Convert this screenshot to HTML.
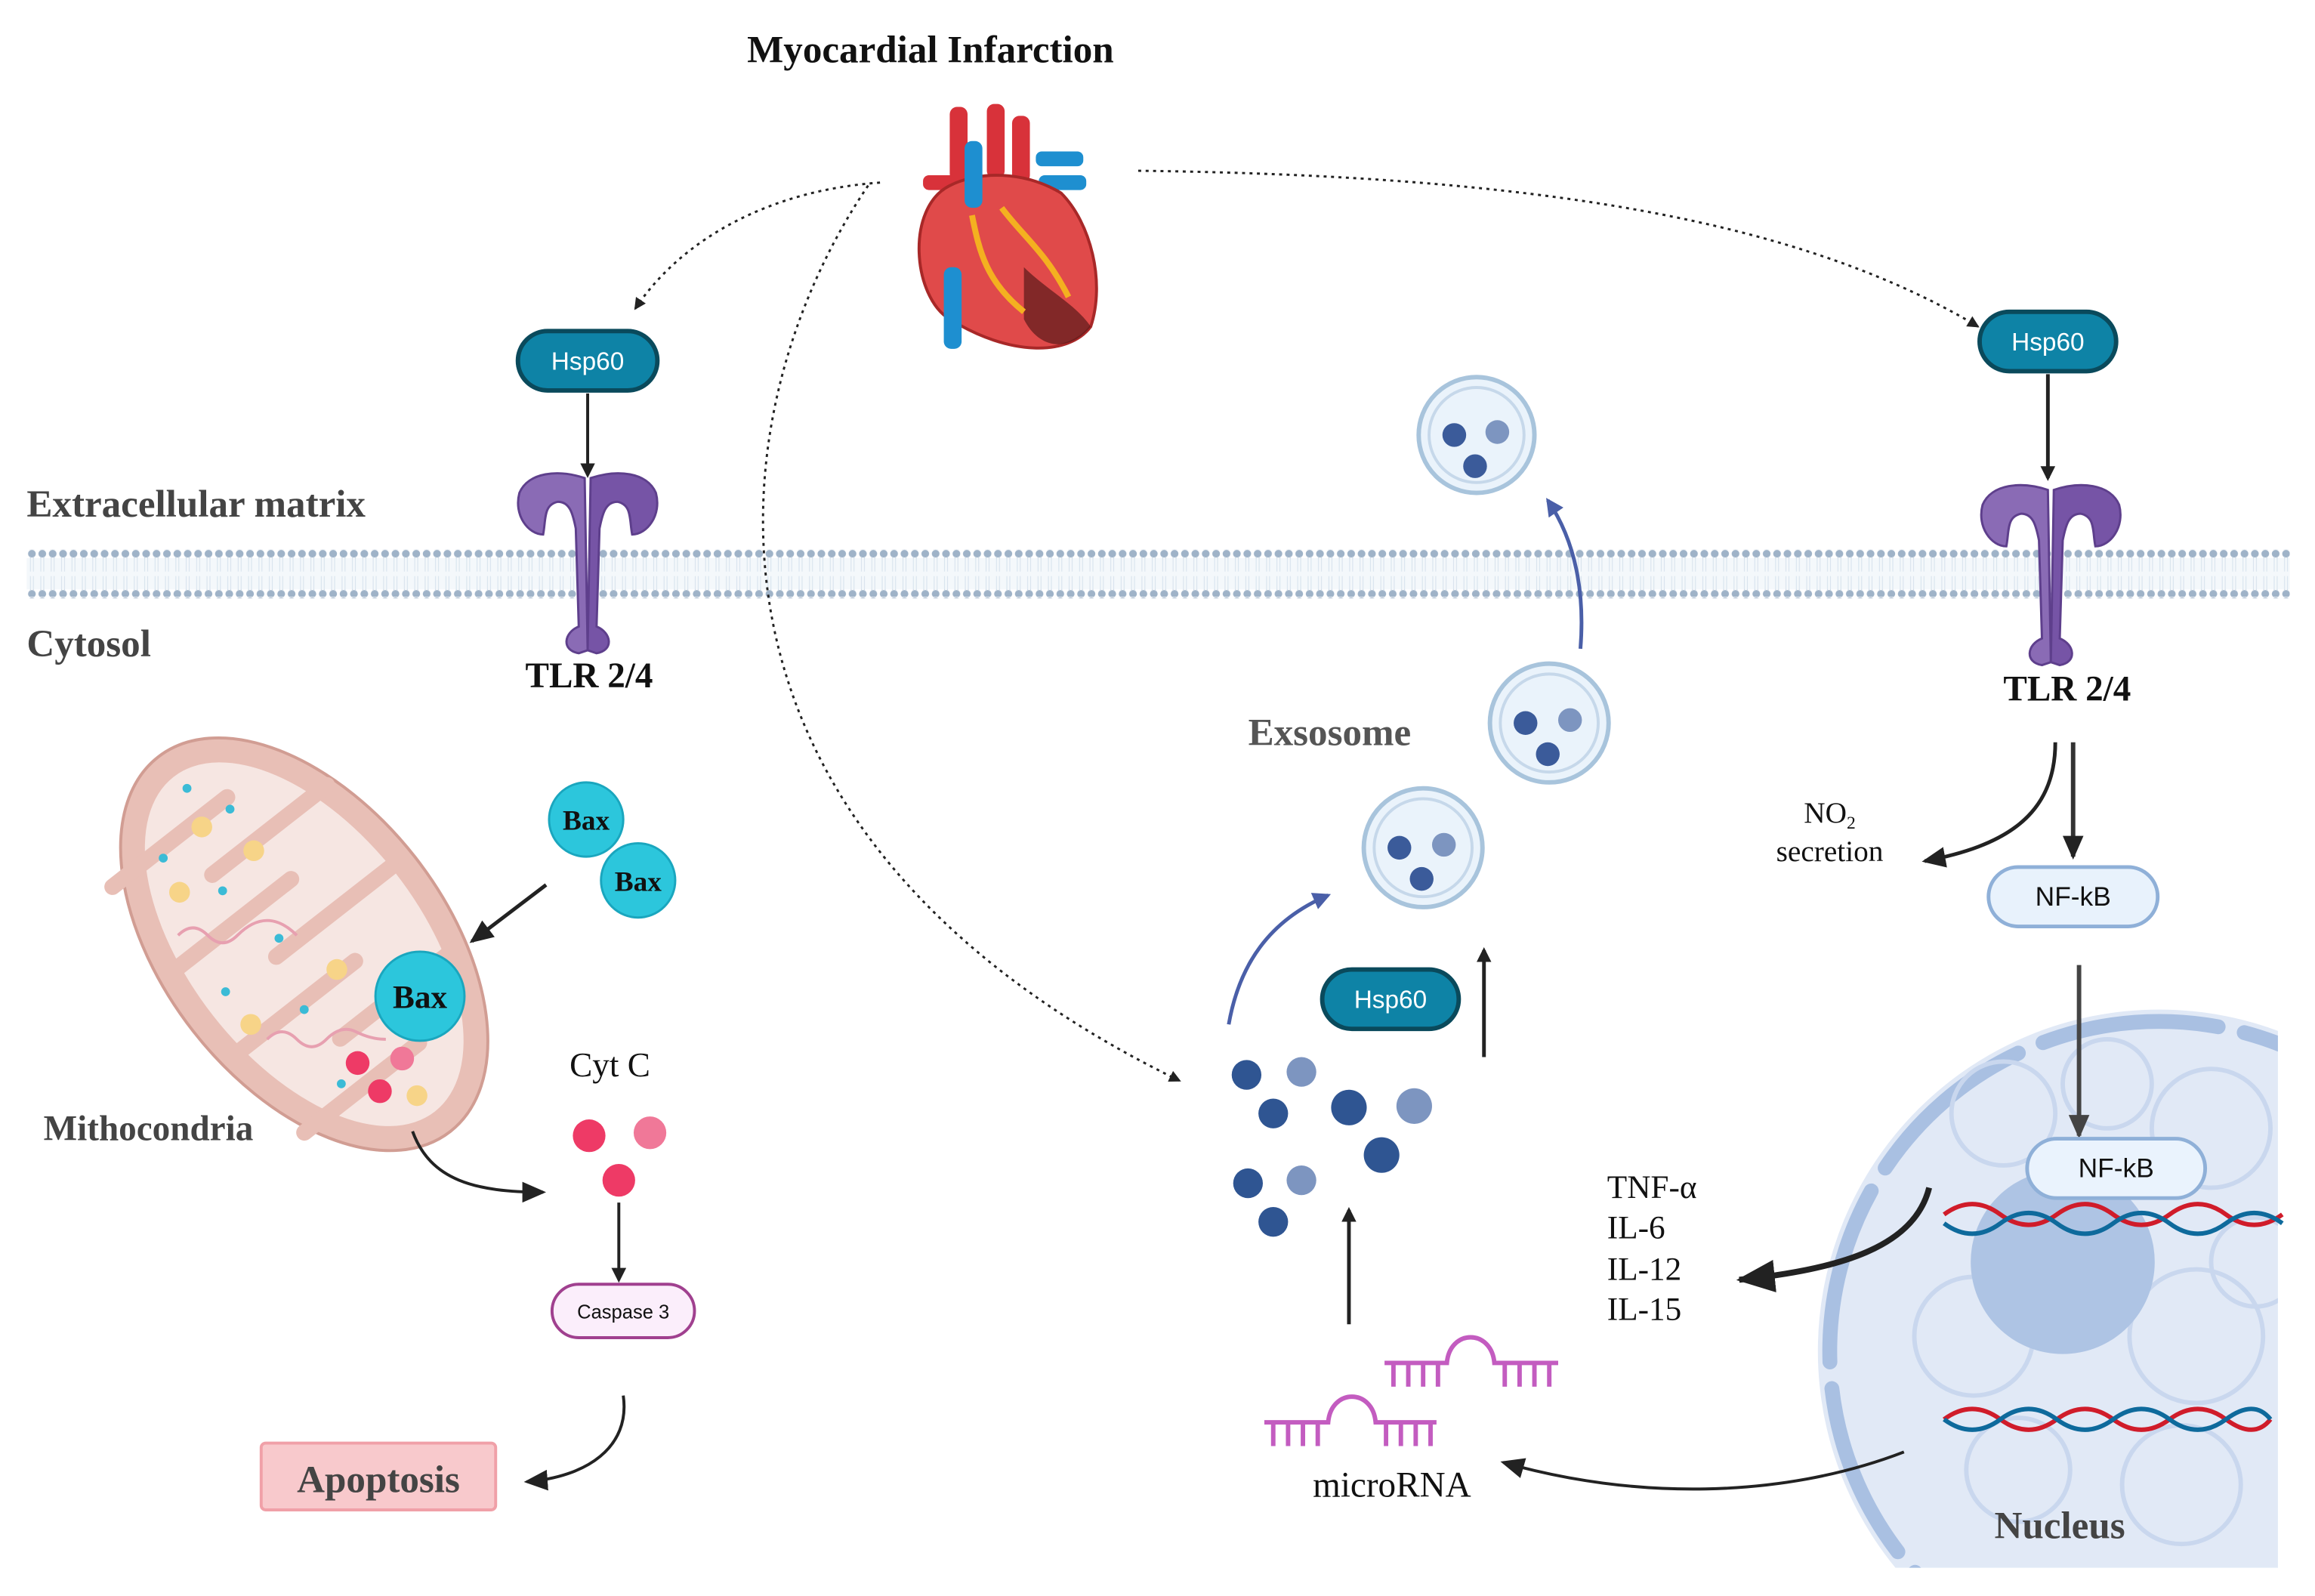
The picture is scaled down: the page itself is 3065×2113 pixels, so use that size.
<!DOCTYPE html>
<html><head><meta charset="utf-8">
<style>
html,body{margin:0;padding:0;background:#fff;overflow:hidden;width:3065px;height:2113px;}
svg{display:block;}
text{font-family:"Liberation Serif",serif;}
</style></head>
<body>
<svg width="3065" height="2113" viewBox="0 0 1560 1075" preserveAspectRatio="none" xmlns="http://www.w3.org/2000/svg">
<defs>
<marker id="ah" markerWidth="10" markerHeight="10" refX="8" refY="5" orient="auto" markerUnits="userSpaceOnUse"><path d="M0,0 L10,5 L0,10 Z" fill="#222"/></marker>
<marker id="ahs" markerWidth="8" markerHeight="8" refX="7" refY="4" orient="auto" markerUnits="userSpaceOnUse"><path d="M0,0 L8,4 L0,8 Z" fill="#222"/></marker>
<marker id="ahb" markerWidth="12" markerHeight="12" refX="10" refY="6" orient="auto" markerUnits="userSpaceOnUse"><path d="M0,0 L12,6 L0,12 Z" fill="#4a5fa8"/></marker>
<marker id="ahL" markerWidth="26" markerHeight="22" refX="24" refY="11" orient="auto" markerUnits="userSpaceOnUse"><path d="M0,0 L26,11 L0,22 Z" fill="#222"/></marker>
<marker id="ahM" markerWidth="16" markerHeight="14" refX="14" refY="7" orient="auto" markerUnits="userSpaceOnUse"><path d="M0,0 L16,7 L0,14 Z" fill="#222"/></marker>
<marker id="ahG" markerWidth="16" markerHeight="14" refX="14" refY="7" orient="auto" markerUnits="userSpaceOnUse"><path d="M0,0 L16,7 L0,14 Z" fill="#444"/></marker>
<pattern id="lip" width="7" height="32" patternUnits="userSpaceOnUse" x="18" y="370">
<circle cx="3.5" cy="3" r="2.6" fill="#9fb3c8"/><circle cx="3.5" cy="30" r="2.6" fill="#9fb3c8"/>
<path d="M2.5,5 L2.5,15 M4.5,5 L4.5,15 M2.5,18 L2.5,28 M4.5,18 L4.5,28" stroke="#c8d6e4" stroke-width="0.6"/>
</pattern>
<clipPath id="nclip"><rect x="1180" y="600" width="355" height="456"/></clipPath>
<g id="tlr" fill="#8a6bb5" stroke="#5e3f8c" stroke-width="1.5">
<path d="M-2,0 C-20,-6 -40,-4 -46,10 C-50,25 -40,38 -30,38 C-28,28 -30,18 -20,16 C-12,16 -10,24 -8,34 L-6,100 C-16,104 -18,116 -6,118 L0,116 Z"/>
<path d="M2,0 C20,-6 40,-4 46,10 C50,25 40,38 30,38 C28,28 30,18 20,16 C12,16 10,24 8,34 L6,100 C16,104 18,116 6,118 L0,116 Z" fill="#7654a6"/>
</g>
</defs>

<rect x="18" y="370" width="1525" height="33" fill="url(#lip)"/>
<rect x="18" y="376" width="1525" height="21" fill="#eaf1f8" opacity="0.5"/>

<text x="627" y="42" font-size="26" font-weight="bold" text-anchor="middle" fill="#111">Myocardial Infarction</text>
<text x="18" y="348" font-size="26" font-weight="bold" fill="#444">Extracellular matrix</text>
<text x="18" y="442" font-size="26" font-weight="bold" fill="#444">Cytosol</text>

<g>
<rect x="640" y="72" width="12" height="50" rx="5" fill="#d8323a"/>
<rect x="665" y="70" width="12" height="50" rx="5" fill="#d8323a"/>
<rect x="682" y="78" width="12" height="45" rx="5" fill="#d8323a"/>
<rect x="622" y="118" width="40" height="10" rx="4" fill="#d8323a"/>
<rect x="698" y="102" width="32" height="10" rx="4" fill="#1e8fd0"/>
<rect x="700" y="118" width="32" height="10" rx="4" fill="#1e8fd0"/>
<path d="M640,125 C610,140 615,200 640,215 C680,240 720,240 735,220 C745,190 735,150 715,130 C690,115 660,115 640,125 Z" fill="#e04a4a" stroke="#a82828" stroke-width="2"/>
<path d="M690,180 C705,195 725,205 735,220 C720,238 700,235 690,215 Z" fill="#5a1a1a" opacity="0.7"/>
<path d="M655,145 C660,170 665,190 690,210 M675,140 C690,160 705,170 720,200" stroke="#f4b020" stroke-width="4" fill="none"/>
<rect x="636" y="180" width="12" height="55" rx="5" fill="#1e8fd0"/>
<rect x="650" y="95" width="12" height="45" rx="5" fill="#1e8fd0"/>
</g>

<path d="M593,123 C520,128 460,160 428,208" stroke="#222" stroke-width="1.5" stroke-dasharray="2,3" fill="none" marker-end="url(#ahs)"/>
<path d="M585,125 C480,280 450,560 795,728" stroke="#222" stroke-width="1.5" stroke-dasharray="2,3" fill="none" marker-end="url(#ahs)"/>
<path d="M767,115 C1000,118 1200,140 1333,220" stroke="#222" stroke-width="1.5" stroke-dasharray="2,3" fill="none" marker-end="url(#ahs)"/>

<rect x="349" y="223" width="94" height="40" rx="20" fill="#0e83a6" stroke="#0a4a5c" stroke-width="3"/>
<text x="396" y="249" font-size="17" fill="#fff" text-anchor="middle" style="font-family:'Liberation Sans',sans-serif">Hsp60</text>
<rect x="1334" y="210" width="92" height="40" rx="20" fill="#0e83a6" stroke="#0a4a5c" stroke-width="3"/>
<text x="1380" y="236" font-size="17" fill="#fff" text-anchor="middle" style="font-family:'Liberation Sans',sans-serif">Hsp60</text>
<rect x="891" y="653" width="92" height="40" rx="20" fill="#0e83a6" stroke="#0a4a5c" stroke-width="3"/>
<text x="937" y="679" font-size="17" fill="#fff" text-anchor="middle" style="font-family:'Liberation Sans',sans-serif">Hsp60</text>

<line x1="396" y1="265" x2="396" y2="320" stroke="#222" stroke-width="2" marker-end="url(#ah)"/>
<line x1="1380" y1="252" x2="1380" y2="322" stroke="#222" stroke-width="2.5" marker-end="url(#ah)"/>

<use href="#tlr" x="396" y="322"/>
<use href="#tlr" x="1382" y="330"/>
<text x="397" y="463" font-size="24" font-weight="bold" text-anchor="middle" fill="#111">TLR 2/4</text>
<text x="1393" y="472" font-size="24" font-weight="bold" text-anchor="middle" fill="#111">TLR 2/4</text>

<g fill="#eaf3fb" stroke="#a8c4dc" stroke-width="3">
<circle cx="995" cy="293" r="39"/><circle cx="1044" cy="487" r="40"/><circle cx="959" cy="571" r="40"/>
</g>
<g fill="none" stroke="#c6d8ea" stroke-width="2">
<circle cx="995" cy="293" r="32"/><circle cx="1044" cy="487" r="33"/><circle cx="959" cy="571" r="33"/>
</g>
<g fill="#3b5b9a">
<circle cx="980" cy="293" r="8"/><circle cx="1009" cy="291" r="8" fill="#7d95c0"/><circle cx="994" cy="314" r="8"/>
<circle cx="1028" cy="487" r="8"/><circle cx="1058" cy="485" r="8" fill="#7d95c0"/><circle cx="1043" cy="508" r="8"/>
<circle cx="943" cy="571" r="8"/><circle cx="973" cy="569" r="8" fill="#7d95c0"/><circle cx="958" cy="592" r="8"/>
</g>
<path d="M1065,437 C1068,400 1062,365 1043,337" stroke="#4a5fa8" stroke-width="2.5" fill="none" marker-end="url(#ahb)"/>
<path d="M828,690 C835,650 855,620 895,603" stroke="#4a5fa8" stroke-width="2.5" fill="none" marker-end="url(#ahb)"/>
<text x="896" y="502" font-size="26" font-weight="bold" text-anchor="middle" fill="#555">Exsosome</text>

<line x1="1000" y1="712" x2="1000" y2="640" stroke="#222" stroke-width="2.5" marker-end="url(#ah)"/>

<g fill="#2f5592">
<circle cx="840" cy="724" r="10"/><circle cx="877" cy="722" r="10" fill="#7d95c0"/><circle cx="858" cy="750" r="10"/>
<circle cx="909" cy="746" r="12"/><circle cx="953" cy="745" r="12" fill="#7d95c0"/><circle cx="931" cy="778" r="12"/>
<circle cx="841" cy="797" r="10"/><circle cx="877" cy="795" r="10" fill="#7d95c0"/><circle cx="858" cy="823" r="10"/>
</g>
<line x1="909" y1="892" x2="909" y2="815" stroke="#222" stroke-width="2.5" marker-end="url(#ah)"/>

<g stroke="#c35cc0" stroke-width="3" fill="none">
<path d="M852,958 L895,958 C897,935 925,935 927,958 L968,958"/>
<path d="M858,958 v16 M868,958 v16 M878,958 v16 M888,958 v16 M934,958 v16 M944,958 v16 M954,958 v16 M964,958 v16"/>
<path d="M933,918 L975,918 C977,895 1005,895 1007,918 L1050,918"/>
<path d="M939,918 v16 M949,918 v16 M959,918 v16 M969,918 v16 M1014,918 v16 M1024,918 v16 M1034,918 v16 M1044,918 v16"/>
</g>
<text x="938" y="1008" font-size="24" text-anchor="middle" fill="#111">microRNA</text>

<line x1="1397" y1="500" x2="1397" y2="577" stroke="#333" stroke-width="3" marker-end="url(#ahM)"/>
<path d="M1385,500 C1385,550 1350,570 1297,580" stroke="#222" stroke-width="2.5" fill="none" marker-end="url(#ahM)"/>
<text x="1233" y="554" font-size="20" text-anchor="middle" fill="#111">NO<tspan font-size="12" dy="4">2</tspan></text>
<text x="1233" y="580" font-size="20" text-anchor="middle" fill="#111">secretion</text>
<rect x="1340" y="584" width="114" height="40" rx="20" fill="#e8f2fc" stroke="#8fb0d8" stroke-width="2.5"/>
<text x="1397" y="610" font-size="18" text-anchor="middle" fill="#111" style="font-family:'Liberation Sans',sans-serif">NF-kB</text>

<g clip-path="url(#nclip)">
<circle cx="1455" cy="910" r="230" fill="#e1e9f6"/>
<circle cx="1455" cy="910" r="222" fill="none" stroke="#a9c0e2" stroke-width="10" stroke-dasharray="120,18" stroke-linecap="round"/>
<g fill="none" stroke="#c9d7ee" stroke-width="3">
<circle cx="1350" cy="750" r="35"/><circle cx="1420" cy="730" r="30"/><circle cx="1490" cy="760" r="40"/>
<circle cx="1330" cy="900" r="40"/><circle cx="1480" cy="900" r="45"/><circle cx="1360" cy="990" r="35"/>
<circle cx="1470" cy="1000" r="40"/><circle cx="1520" cy="850" r="30"/>
</g>
<circle cx="1390" cy="850" r="62" fill="#aec4e4"/>
</g>
<line x1="1401" y1="650" x2="1401" y2="765" stroke="#444" stroke-width="3" marker-end="url(#ahG)"/>
<rect x="1366" y="767" width="120" height="40" rx="20" fill="#eaf3fd" stroke="#8fb0d8" stroke-width="2.5"/>
<text x="1426" y="793" font-size="18" text-anchor="middle" fill="#111" style="font-family:'Liberation Sans',sans-serif">NF-kB</text>
<g fill="none" stroke-width="3">
<path d="M1310,818 q19,-14 38,0 t38,0 t38,0 t38,0 t38,0 t38,0" stroke="#d01c2a"/>
<path d="M1310,824 q19,14 38,0 t38,0 t38,0 t38,0 t38,0 t38,0" stroke="#0e6a9c"/>
<path d="M1310,956 q19,-14 38,0 t38,0 t38,0 t38,0 t38,0 t30,0" stroke="#d01c2a"/>
<path d="M1310,956 q19,14 38,0 t38,0 t38,0 t38,0 t38,0 t30,0" stroke="#0e6a9c"/>
</g>
<text x="1388" y="1036" font-size="26" font-weight="bold" text-anchor="middle" fill="#444">Nucleus</text>

<path d="M1300,800 C1290,840 1240,855 1172,862" stroke="#222" stroke-width="4" fill="none" marker-end="url(#ahL)"/>
<g font-size="22" fill="#111">
<text x="1083" y="807">TNF-α</text><text x="1083" y="834">IL-6</text><text x="1083" y="862">IL-12</text><text x="1083" y="889">IL-15</text>
</g>
<path d="M1283,978 C1200,1010 1100,1010 1013,985" stroke="#222" stroke-width="2" fill="none" marker-end="url(#ahM)"/>

<g transform="translate(205,636) rotate(-38)">
<ellipse cx="0" cy="0" rx="95" ry="160" fill="#e8bfb6" stroke="#d19d93" stroke-width="2"/>
<ellipse cx="0" cy="0" rx="78" ry="143" fill="#f6e6e2"/>
<g stroke="#e8bfb6" stroke-width="11" stroke-linecap="round">
<line x1="-78" y1="-110" x2="20" y2="-110"/><line x1="78" y1="-75" x2="-20" y2="-75"/>
<line x1="-78" y1="-40" x2="20" y2="-40"/><line x1="78" y1="-5" x2="-20" y2="-5"/>
<line x1="-78" y1="30" x2="20" y2="30"/><line x1="78" y1="65" x2="-20" y2="65"/>
<line x1="-78" y1="100" x2="20" y2="100"/>
</g>
</g>
<g fill="#f7d488"><circle cx="136" cy="557" r="7"/><circle cx="171" cy="573" r="7"/><circle cx="121" cy="601" r="7"/><circle cx="227" cy="653" r="7"/><circle cx="169" cy="690" r="7"/><circle cx="281" cy="738" r="7"/></g>
<g fill="#3bbbd6"><circle cx="126" cy="531" r="3"/><circle cx="155" cy="545" r="3"/><circle cx="110" cy="578" r="3"/><circle cx="150" cy="600" r="3"/><circle cx="152" cy="668" r="3"/><circle cx="205" cy="680" r="3"/><circle cx="230" cy="730" r="3"/><circle cx="188" cy="632" r="3"/></g>
<path d="M120,630 q10,-10 20,0 t20,0 t20,-10 t20,10 M180,700 q10,-10 20,0 t20,0 t20,-5 t20,5" stroke="#e7a0b0" stroke-width="2" fill="none"/>
<g fill="#ee3a66"><circle cx="241" cy="716" r="8"/><circle cx="256" cy="735" r="8"/><circle cx="271" cy="713" r="8" fill="#f07898"/></g>

<g fill="#2cc6dc" stroke="#1aa6be" stroke-width="1.5">
<circle cx="395" cy="552" r="25"/><circle cx="430" cy="593" r="25"/><circle cx="283" cy="671" r="30"/>
</g>
<g font-weight="bold" fill="#111" text-anchor="middle">
<text x="395" y="559" font-size="19">Bax</text><text x="430" y="600" font-size="19">Bax</text><text x="283" y="679" font-size="22">Bax</text>
</g>
<line x1="368" y1="596" x2="318" y2="634" stroke="#222" stroke-width="2.5" marker-end="url(#ahM)"/>
<text x="100" y="768" font-size="24" font-weight="bold" text-anchor="middle" fill="#444">Mithocondria</text>

<text x="411" y="725" font-size="23" text-anchor="middle" fill="#111">Cyt C</text>
<g><circle cx="397" cy="765" r="11" fill="#ee3a66"/><circle cx="438" cy="763" r="11" fill="#f07898"/><circle cx="417" cy="795" r="11" fill="#ee3a66"/></g>
<path d="M278,762 C290,795 320,803 366,803" stroke="#222" stroke-width="2" fill="none" marker-end="url(#ahM)"/>
<line x1="417" y1="810" x2="417" y2="862" stroke="#222" stroke-width="2" marker-end="url(#ah)"/>
<rect x="372" y="865" width="96" height="36" rx="18" fill="#fbeefb" stroke="#a0408f" stroke-width="2"/>
<text x="420" y="888" font-size="13" text-anchor="middle" fill="#111" style="font-family:'Liberation Sans',sans-serif">Caspase 3</text>
<path d="M420,940 C425,975 395,995 355,998" stroke="#222" stroke-width="2" fill="none" marker-end="url(#ahM)"/>
<rect x="176" y="972" width="158" height="45" rx="3" fill="#f8c9cc" stroke="#f0a0a8" stroke-width="2"/>
<text x="255" y="1005" font-size="26" font-weight="bold" text-anchor="middle" fill="#444">Apoptosis</text>
</svg>
</body></html>
